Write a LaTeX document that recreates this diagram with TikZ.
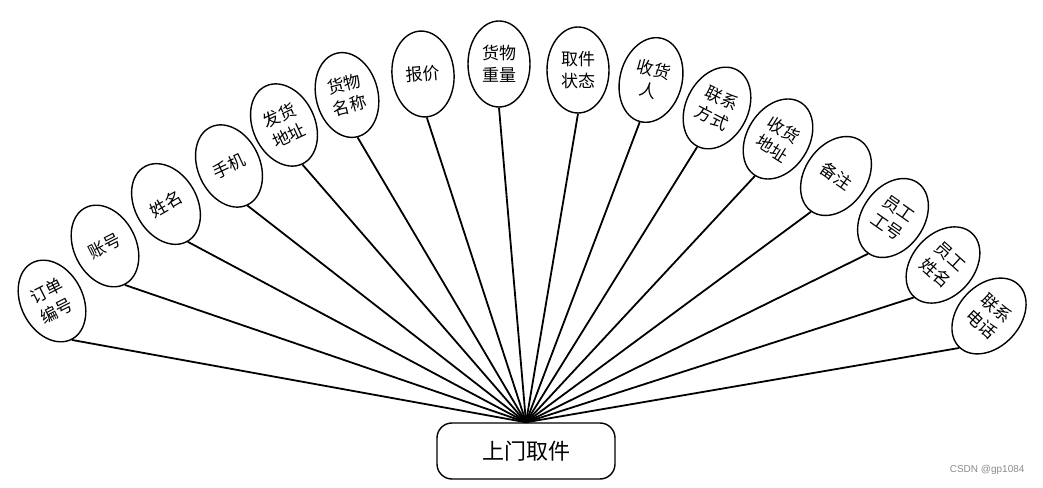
\documentclass[tikz,border=0pt]{standalone}
\usepackage{fontspec}
\usepackage{tikz}
\newfontfamily\cjk{Noto Sans CJK SC}
\newfontfamily\wmfont{Liberation Sans}
\usetikzlibrary{shapes.geometric}

\begin{document}
\begin{tikzpicture}[
  x=1pt, y=1pt,
  attr/.style={ellipse, draw=black, line width=1.4pt, fill=white, align=center,
               minimum width=62pt, minimum height=86pt, inner sep=0pt,
               font=\cjk\fontsize{17}{22}\selectfont},
  ent/.style={draw=black, line width=1.4pt, rounded corners=15pt, fill=white,
              minimum width=178pt, minimum height=56pt, inner sep=0pt,
              font=\cjk\fontsize{22}{24}\selectfont},
  ln/.style={line width=1.8pt, black}]
\useasboundingbox (0,0) rectangle (1043,487);

% ================= entity =================
\node[ent] (pick) at (526,36) {上门取件};

% ================= attributes, left to right =================
\node[attr, rotate=27]  (ordno)  at (52,186)  {订单\\编号};
\node[attr, rotate=27]  (acct)   at (105,241) {账号};
\node[attr, rotate=30]  (name)   at (166,283) {姓名};
\node[attr, rotate=25]  (phone)  at (229,321) {手机};
\node[attr, rotate=25]  (sendad) at (284,362) {发货\\地址};
\node[attr, rotate=14]  (goods)  at (347,392) {货物\\名称};
\node[attr, rotate=5]   (price)  at (423,413) {报价};
\node[attr]             (weight) at (499,423) {货物\\重量};
\node[attr]             (state)  at (578,417) {取件\\状态};
\node[attr, rotate=-15] (recv)   at (651,407) {收货\\人};
\node[attr, rotate=-27] (contact) at (717,379) {联系\\方式};
\node[attr, rotate=-32] (recvad) at (778,348) {收货\\地址};
\node[attr, rotate=-35] (note)   at (836,311) {备注};
\node[attr, rotate=-35] (staffno) at (893,269) {员工\\工号};
\node[attr, rotate=-42] (staffnm) at (943,222) {员工\\姓名};
\node[attr, rotate=-43] (tel)    at (989,171) {联系\\电话};

% all links meet at the top of the entity
\foreach \a in {ordno,acct,name,phone,sendad,goods,price,weight,state,recv,
                contact,recvad,note,staffno,staffnm,tel}
  \draw[ln] (\a.south) -- (pick.north);

\node[font=\wmfont\fontsize{10}{12}\selectfont, text=black!45, anchor=east]
  (wm) at (1028,17) {CSDN @gp1084};
\end{tikzpicture}
\end{document}
